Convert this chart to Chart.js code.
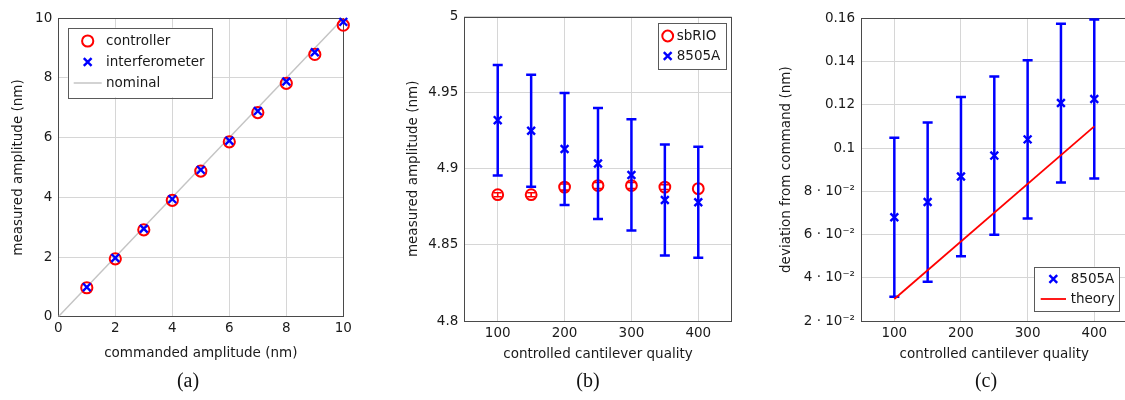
<!DOCTYPE html>
<html>
<head>
<meta charset="utf-8">
<script src="https://cdn.jsdelivr.net/npm/chart.js@4.4.1/dist/chart.umd.min.js"></script>
<style>
    html, body { margin: 0; padding: 0; background: #fff; width: 1125px; height: 400px; overflow: hidden; }
    .panel { position: absolute; top: 0; height: 400px; }
    .cap { position: absolute; top: 367px; line-height: 26px; font-family: "Liberation Serif", serif; font-size: 20px; color: #111; transform: translateX(-50%); }
</style>
</head>
<body>
<div class="panel" style="left:0;width:375px"><canvas id="chartA" width="375" height="400"></canvas></div>
<div class="panel" style="left:375px;width:375px"><canvas id="chartB" width="375" height="400"></canvas></div>
<div class="panel" style="left:750px;width:400px"><canvas id="chartC" width="400" height="400"></canvas></div>
<div class="cap" style="left:188px">(a)</div>
<div class="cap" style="left:588px">(b)</div>
<div class="cap" style="left:986px">(c)</div>
<script>
// panel (a)
const commanded = [1, 2, 3, 4, 5, 6, 7, 8, 9, 10];
const controller = [0.97, 1.94, 2.91, 3.9, 4.88, 5.86, 6.84, 7.82, 8.79, 9.77];
const interferometer = [0.99, 1.97, 2.95, 3.94, 4.92, 5.9, 6.89, 7.88, 8.86, 9.88];
const nominalX = [0, 10];
const nominalY = [0, 10];
const ticksA = [0, 2, 4, 6, 8, 10];

// panels (b) and (c)
const quality = [100, 150, 200, 250, 300, 350, 400];
const qualityTicks = [100, 200, 300, 400];
const sbrioMean = [4.883, 4.883, 4.888, 4.889, 4.889, 4.888, 4.887];
const sbrioErr = [0.0013, 0.0013, 0.002, 0.002, 0.002, 0.0016, 0];
const hpMean = [4.932, 4.925, 4.913, 4.9035, 4.896, 4.8795, 4.878];
const hpErr = [0.0363, 0.0368, 0.0368, 0.0365, 0.0366, 0.0365, 0.0365];
const ticksB = [4.8, 4.85, 4.9, 4.95, 5];

const devMean = [0.068, 0.075, 0.0868, 0.0965, 0.104, 0.1208, 0.1227];
const devErr = [0.0368, 0.0368, 0.0368, 0.0366, 0.0366, 0.0367, 0.0368];
const theoryQ = [100, 400];
const theory = [0.0302, 0.110];
const ticksC = [0.02, 0.04, 0.06, 0.08, 0.1, 0.12, 0.14, 0.16];
const tickLabelsC = ["2 · 10⁻²", "4 · 10⁻²", "6 · 10⁻²", "8 · 10⁻²", "0.1", "0.12", "0.14", "0.16"];

const RED = "#ff0000";
const BLUE = "#0000ff";
const FONT = "'DejaVu Sans', sans-serif";

Chart.defaults.font.family = FONT;
Chart.defaults.font.size = 13.5;
Chart.defaults.color = "#1a1a1a";

const pts = (xs, ys) => xs.map((x, i) => ({ x: x, y: ys[i] }));

// box round the plot area, drawn over the grid but under the marks
const frame = {
    id: "frame",
    beforeDatasetsDraw(chart) {
        const a = chart.chartArea;
        const ctx = chart.ctx;
        ctx.save();
        ctx.strokeStyle = "#4a4a4a";
        ctx.lineWidth = 1;
        ctx.strokeRect(Math.round(a.left) + 0.5, Math.round(a.top) + 0.5,
            Math.round(a.right - a.left), Math.round(a.bottom - a.top));
        ctx.restore();
    },
};

// vertical error bars, drawn just before the marks of the same dataset
const errorBars = {
    id: "errorBars",
    beforeDatasetDraw(chart, args) {
        const ds = chart.data.datasets[args.index];
        if (!ds.errors) return;
        const ys = chart.scales.y;
        const ctx = chart.ctx;
        ctx.save();
        ctx.strokeStyle = ds.borderColor;
        ctx.lineWidth = ds.errorWidth;
        args.meta.data.forEach((pt, i) => {
            const e = ds.errors[i];
            if (!e) return;
            const v = ds.data[i].y;
            const t = ys.getPixelForValue(v + e);
            const b = ys.getPixelForValue(v - e);
            const c = ds.capHalf;
            ctx.beginPath();
            ctx.moveTo(pt.x, t); ctx.lineTo(pt.x, b);
            ctx.moveTo(pt.x - c, t); ctx.lineTo(pt.x + c, t);
            ctx.moveTo(pt.x - c, b); ctx.lineTo(pt.x + c, b);
            ctx.stroke();
        });
        ctx.restore();
    },
};

// legend in a box inside the plot
const boxLegend = {
    id: "boxLegend",
    afterDraw(chart, args, o) {
        if (!o.box) return;
        const ctx = chart.ctx;
        const b = o.box;
        ctx.save();
        ctx.fillStyle = "#fff";
        ctx.fillRect(b.x, b.y, b.w, b.h);
        ctx.strokeStyle = "#5a5a5a";
        ctx.lineWidth = 1;
        ctx.strokeRect(Math.round(b.x) + 0.5, Math.round(b.y) + 0.5, Math.round(b.w), Math.round(b.h));
        chart.data.datasets.forEach((ds, i) => {
            const y = b.y + o.firstRow + i * o.rowGap;
            const sx = b.x + o.symbolX;
            ctx.strokeStyle = ds.borderColor;
            if (ds.showLine) {
                ctx.lineWidth = ds.borderWidth;
                ctx.beginPath();
                ctx.moveTo(b.x + o.lineFrom, y);
                ctx.lineTo(b.x + o.lineTo, y);
                ctx.stroke();
            } else if (ds.pointStyle === "circle") {
                ctx.lineWidth = ds.borderWidth;
                ctx.beginPath();
                ctx.arc(sx, y, ds.pointRadius, 0, Math.PI * 2);
                ctx.stroke();
            } else {
                const r = ds.pointRadius * 0.707;
                ctx.lineWidth = ds.borderWidth;
                ctx.beginPath();
                ctx.moveTo(sx - r, y - r); ctx.lineTo(sx + r, y + r);
                ctx.moveTo(sx + r, y - r); ctx.lineTo(sx - r, y + r);
                ctx.stroke();
            }
            ctx.fillStyle = "#1a1a1a";
            ctx.font = "13.5px " + FONT;
            ctx.textBaseline = "middle";
            ctx.textAlign = "left";
            ctx.fillText(ds.label, b.x + o.textX, y + 0.5);
        });
        ctx.restore();
    },
};

function axis(cfg) {
    return {
        type: "linear",
        min: cfg.min,
        max: cfg.max,
        afterBuildTicks: (s) => { s.ticks = cfg.ticks.map((v) => ({ value: v })); },
        afterFit: (s) => { if (cfg.width) s.width = cfg.width; if (cfg.height) s.height = cfg.height; },
        grid: { color: "#d6d6d6", lineWidth: 1, drawTicks: false },
        border: { display: false },
        ticks: {
            padding: cfg.tickPad,
            autoSkip: false,
            maxRotation: 0,
            callback: cfg.labels ? (v, i) => cfg.labels[i] : (v) => String(v),
        },
        title: {
            display: true,
            text: cfg.title,
            font: { size: 13.5, lineHeight: 1.2 },
            padding: cfg.titlePad,
        },
    };
}

function baseOptions(pad, xs, ys, legend) {
    return {
        responsive: false,
        animation: false,
        events: [],
        layout: { padding: pad },
        scales: { x: xs, y: ys },
        plugins: { legend: { display: false }, tooltip: { enabled: false }, boxLegend: legend },
    };
}

new Chart(document.getElementById("chartA"), {
    type: "scatter",
    data: {
        datasets: [
            { label: "controller", data: pts(commanded, controller), pointStyle: "circle", pointRadius: 5.6,
              borderColor: RED, backgroundColor: "rgba(0,0,0,0)", borderWidth: 2, order: 1, clip: false },
            { label: "interferometer", data: pts(commanded, interferometer), pointStyle: "crossRot", pointRadius: 5.5,
              borderColor: BLUE, backgroundColor: BLUE, borderWidth: 2.4, order: 0, clip: false },
            { label: "nominal", data: pts(nominalX, nominalY), showLine: true, pointRadius: 0,
              borderColor: "#c4c4c4", borderWidth: 1.5, order: 2 },
        ],
    },
    options: baseOptions(
        { left: 0, top: 18.3, right: 31.7, bottom: 38.3 },
        axis({ min: 0, max: 10, ticks: ticksA, height: 45, tickPad: 4, title: "commanded amplitude (nm)", titlePad: { top: 0, bottom: 0.6 } }),
        axis({ min: 0, max: 10, ticks: ticksA, width: 58.3, tickPad: 6, title: "measured amplitude (nm)", titlePad: { top: 10.5, bottom: 0 } }),
        { box: { x: 67.7, y: 27.7, w: 144, h: 69.6 }, firstRow: 13.3, rowGap: 21, symbolX: 20, textX: 38.3, lineFrom: 6, lineTo: 34 }
    ),
    plugins: [frame, errorBars, boxLegend],
});

new Chart(document.getElementById("chartB"), {
    type: "scatter",
    data: {
        datasets: [
            { label: "sbRIO", data: pts(quality, sbrioMean), errors: sbrioErr, errorWidth: 1.6, capHalf: 4,
              pointStyle: "circle", pointRadius: 5.4, borderColor: RED, backgroundColor: "rgba(0,0,0,0)",
              borderWidth: 2, order: 1, clip: false },
            { label: "8505A", data: pts(quality, hpMean), errors: hpErr, errorWidth: 2.5, capHalf: 5,
              pointStyle: "crossRot", pointRadius: 5.5, borderColor: BLUE, backgroundColor: BLUE,
              borderWidth: 2.4, order: 0, clip: false },
        ],
    },
    options: baseOptions(
        { left: 0, top: 16.7, right: 18.3, bottom: 34 },
        axis({ min: 50, max: 450, ticks: qualityTicks, height: 45, tickPad: 4, title: "controlled cantilever quality", titlePad: { top: 0, bottom: 3.9 } }),
        axis({ min: 4.8, max: 5, ticks: ticksB, width: 89.3, tickPad: 6, title: "measured amplitude (nm)", titlePad: { top: 29.9, bottom: 0 } }),
        { box: { x: 282.7, y: 23.3, w: 68, h: 45.7 }, firstRow: 12.7, rowGap: 20, symbolX: 10, textX: 19, lineFrom: 3, lineTo: 17 }
    ),
    plugins: [frame, errorBars, boxLegend],
});

new Chart(document.getElementById("chartC"), {
    type: "scatter",
    data: {
        datasets: [
            { label: "8505A", data: pts(quality, devMean), errors: devErr, errorWidth: 2.5, capHalf: 5,
              pointStyle: "crossRot", pointRadius: 5.5, borderColor: BLUE, backgroundColor: BLUE,
              borderWidth: 2.4, order: 1, clip: false },
            { label: "theory", data: pts(theoryQ, theory), showLine: true, pointRadius: 0,
              borderColor: RED, borderWidth: 1.8, order: 0 },
        ],
    },
    options: baseOptions(
        { left: 0, top: 18.3, right: 22.4, bottom: 34 },
        axis({ min: 50, max: 450, ticks: qualityTicks, height: 45, tickPad: 4, title: "controlled cantilever quality", titlePad: { top: 0, bottom: 3.6 } }),
        axis({ min: 0.02, max: 0.16, ticks: ticksC, labels: tickLabelsC, width: 111, tickPad: 6, title: "deviation from command (nm)", titlePad: { top: 28.6, bottom: 0 } }),
        { box: { x: 284.3, y: 266.7, w: 85, h: 44.3 }, firstRow: 12.3, rowGap: 20, symbolX: 19, textX: 36.4, lineFrom: 6.4, lineTo: 31.7 }
    ),
    plugins: [frame, errorBars, boxLegend],
});
</script>
</body>
</html>
